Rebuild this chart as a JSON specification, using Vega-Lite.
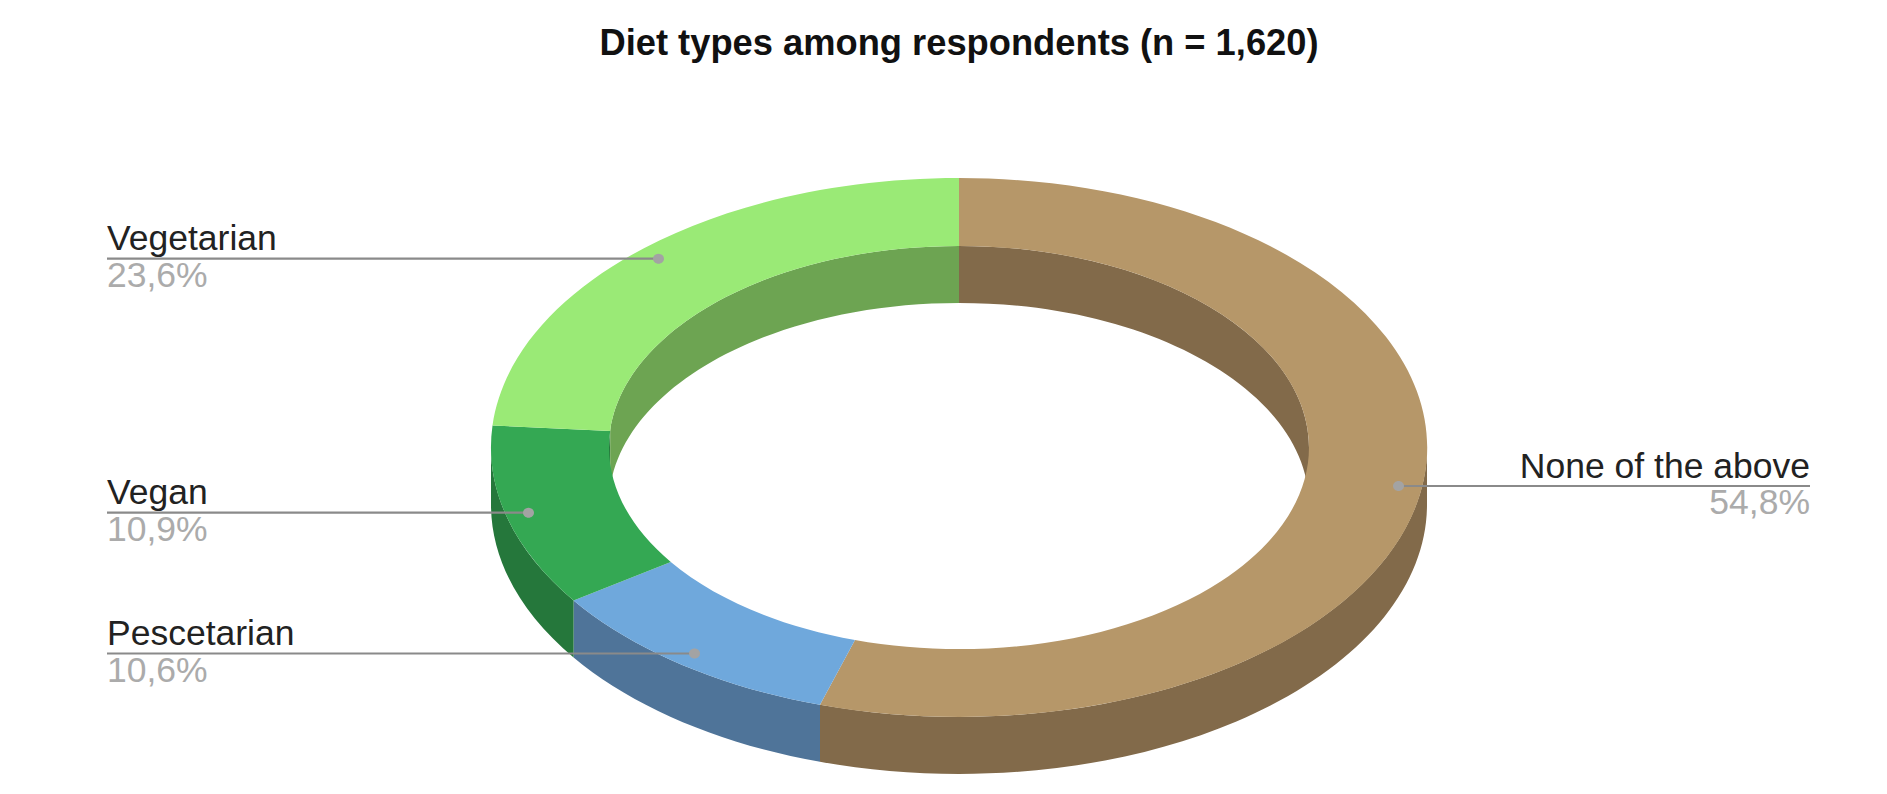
{
"$schema":"https://vega.github.io/schema/vega-lite/v6.json",
"width":1887,"height":794,"padding":0,"autosize":{"type":"none"},"background":"white",
"view":{"stroke":null},
"title":{"text":"Diet types among respondents (n = 1,620)","anchor":"middle","frame":"group","font":"Liberation Sans","fontWeight":"bold","fontSize":36.3,"color":"#111111","baseline":"alphabetic","offset":0,"dx":15.5,"dy":91},
"data":{"values":[
{"diet":"None of the above","share":54.8,"label":"54,8%"},
{"diet":"Pescetarian","share":10.6,"label":"10,6%"},
{"diet":"Vegan","share":10.9,"label":"10,9%"},
{"diet":"Vegetarian","share":23.6,"label":"23,6%"}
]},
"layer":[
{"transform":[{"filter":"datum.diet !== 'Vegetarian'"}],
 "mark":{"type":"point","filled":true,"opacity":1,"size":4,"strokeWidth":0},
 "encoding":{
  "color":{"field":"diet","type":"nominal","legend":null,"scale":{"domain":["None of the above","Pescetarian","Vegan"],"range":["#826A4A","#4F7499","#25773B"]}},
  "shape":{"field":"diet","type":"nominal","legend":null,"scale":{"domain":["None of the above","Pescetarian","Vegan"],"range":[
   "M483.5 50.5 A468 269.5 0 0 1 -123.5 307.8 L-123.5 364.8 A468 269.5 0 0 0 483.5 107.5 Z",
   "M-123.5 307.8 A468 269.5 0 0 1 -369.9 203.4 L-369.9 260.4 A468 269.5 0 0 0 -123.5 364.8 Z",
   "M-369.9 203.4 A468 269.5 0 0 1 -452.5 50.5 L-452.5 107.5 A468 269.5 0 0 0 -369.9 260.4 Z"]}}
 }},
{"transform":[{"filter":"datum.diet !== 'Pescetarian'"}],
 "mark":{"type":"point","filled":true,"opacity":1,"size":4,"strokeWidth":0},
 "encoding":{
  "color":{"field":"diet","type":"nominal","legend":null,"scale":{"domain":["None of the above","Vegan","Vegetarian"],"range":["#826A4A","#25773B","#6DA452"]}},
  "shape":{"field":"diet","type":"nominal","legend":null,"scale":{"domain":["None of the above","Vegan","Vegetarian"],"range":[
   "M15.5 -151.1 A350 201.6 0 0 1 365.5 50.5 L365.5 107.5 A350 201.6 0 0 0 15.5 -94.1 Z",
   "M-334.5 50.5 A350 201.6 0 0 1 -333.3 34 L-333.3 91 A350 201.6 0 0 0 -334.5 107.5 Z",
   "M-333.3 34 A350 201.6 0 0 1 15.5 -151.1 L15.5 -94.1 A350 201.6 0 0 0 -333.3 91 Z"]}}
 }},
{"mark":{"type":"point","filled":true,"opacity":1,"size":4,"strokeWidth":0},
 "encoding":{
  "color":{"field":"diet","type":"nominal","legend":null,"scale":{"domain":["None of the above","Pescetarian","Vegan","Vegetarian"],"range":["#B69769","#6FA8DC","#34A853","#9AEA76"]}},
  "shape":{"field":"diet","type":"nominal","legend":null,"scale":{"domain":["None of the above","Pescetarian","Vegan","Vegetarian"],"range":[
   "M15.5 -219 A468 269.5 0 1 1 -123.5 307.8 L-88.5 243 A350 201.6 0 1 0 15.5 -151.1 Z",
   "M-123.5 307.8 A468 269.5 0 0 1 -369.9 203.4 L-272.7 164.9 A350 201.6 0 0 0 -88.5 243 Z",
   "M-369.9 203.4 A468 269.5 0 0 1 -451 28.5 L-333.3 34 A350 201.6 0 0 0 -272.7 164.9 Z",
   "M-451 28.5 A468 269.5 0 0 1 15.5 -219 L15.5 -151.1 A350 201.6 0 0 0 -333.3 34 Z"]}}
 }},
{"mark":{"type":"point","filled":false,"opacity":1,"size":4,"stroke":"#8A8A8A","strokeWidth":2.2},
 "encoding":{
  "shape":{"field":"diet","type":"nominal","legend":null,"scale":{"domain":["None of the above","Pescetarian","Vegan","Vegetarian"],"range":[
   "M454.5 89 L866.5 89",
   "M-836.5 256.5 L-249.5 256.5",
   "M-836.5 115.7 L-415.5 115.7",
   "M-836.5 -138.3 L-285.5 -138.3"]}}
 }},
{"mark":{"type":"point","filled":true,"opacity":1,"size":4,"fill":"#A3A3A3","strokeWidth":0},
 "encoding":{
  "shape":{"field":"diet","type":"nominal","legend":null,"scale":{"domain":["None of the above","Pescetarian","Vegan","Vegetarian"],"range":[
   "M449.5 89 A5.5 5 0 1 1 460.5 89 A5.5 5 0 1 1 449.5 89 Z",
   "M-254.5 256.5 A5.5 5 0 1 1 -243.5 256.5 A5.5 5 0 1 1 -254.5 256.5 Z",
   "M-420.5 115.7 A5.5 5 0 1 1 -409.5 115.7 A5.5 5 0 1 1 -420.5 115.7 Z",
   "M-290.5 -138.3 A5.5 5 0 1 1 -279.5 -138.3 A5.5 5 0 1 1 -290.5 -138.3 Z"]}}
 }},
{"transform":[{"filter":"datum.share < 50"}],
 "mark":{"type":"text","align":"left","baseline":"alphabetic","dy":-8.5,"font":"Liberation Sans","fontSize":35.5,"color":"#222222"},
 "encoding":{
  "x":{"field":"share","type":"quantitative","axis":null,"scale":{"domain":[10.6,10.9,23.6,54.8],"range":[107,107,107,1810],"zero":false,"nice":false}},
  "y":{"field":"share","type":"quantitative","axis":null,"scale":{"domain":[10.6,10.9,23.6,54.8],"range":[653.5,512.7,258.7,486],"zero":false,"nice":false}},
  "text":{"field":"diet","type":"nominal"}
 }},
{"transform":[{"filter":"datum.share < 50"}],
 "mark":{"type":"text","align":"left","baseline":"alphabetic","dy":28,"font":"Liberation Sans","fontSize":35.5,"color":"#ABABAB"},
 "encoding":{
  "x":{"field":"share","type":"quantitative","axis":null,"scale":{"domain":[10.6,10.9,23.6,54.8],"range":[107,107,107,1810],"zero":false,"nice":false}},
  "y":{"field":"share","type":"quantitative","axis":null,"scale":{"domain":[10.6,10.9,23.6,54.8],"range":[653.5,512.7,258.7,486],"zero":false,"nice":false}},
  "text":{"field":"label","type":"nominal"}
 }},
{"transform":[{"filter":"datum.share > 50"}],
 "mark":{"type":"text","align":"right","baseline":"alphabetic","dy":-8.5,"font":"Liberation Sans","fontSize":35.5,"color":"#222222"},
 "encoding":{
  "x":{"field":"share","type":"quantitative","axis":null,"scale":{"domain":[10.6,10.9,23.6,54.8],"range":[107,107,107,1810],"zero":false,"nice":false}},
  "y":{"field":"share","type":"quantitative","axis":null,"scale":{"domain":[10.6,10.9,23.6,54.8],"range":[653.5,512.7,258.7,486],"zero":false,"nice":false}},
  "text":{"field":"diet","type":"nominal"}
 }},
{"transform":[{"filter":"datum.share > 50"}],
 "mark":{"type":"text","align":"right","baseline":"alphabetic","dy":28,"font":"Liberation Sans","fontSize":35.5,"color":"#ABABAB"},
 "encoding":{
  "x":{"field":"share","type":"quantitative","axis":null,"scale":{"domain":[10.6,10.9,23.6,54.8],"range":[107,107,107,1810],"zero":false,"nice":false}},
  "y":{"field":"share","type":"quantitative","axis":null,"scale":{"domain":[10.6,10.9,23.6,54.8],"range":[653.5,512.7,258.7,486],"zero":false,"nice":false}},
  "text":{"field":"label","type":"nominal"}
 }}
],
"resolve":{"scale":{"color":"independent","shape":"independent"}}
}
